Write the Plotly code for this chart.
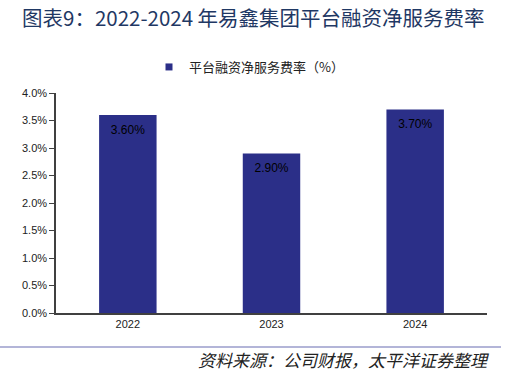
import plotly.graph_objects as go

years = ["2022", "2023", "2024"]
rates = [0.036, 0.029, 0.037]
labels = ["3.60%", "2.90%", "3.70%"]
series_name = "平台融资净服务费率（%）"
title_text = "图表9：2022-2024 年易鑫集团平台融资净服务费率"
source_text = "资料来源：公司财报，太平洋证券整理"

bar_color = "#2B2F88"
cjk = "Noto Sans CJK SC"

fig = go.Figure()
fig.add_trace(go.Bar(
    x=years, y=rates, name=series_name, showlegend=False,
    marker=dict(color=bar_color, line=dict(width=0)),
    hoverinfo="x+y",
))
# value labels just below the bar tops
fig.add_trace(go.Scatter(
    x=years, y=rates, mode="markers+text", text=labels, showlegend=False,
    textposition="bottom center",
    marker=dict(size=14, opacity=0, color=bar_color),
    textfont=dict(color="black", size=12, family="Arial, Liberation Sans"),
    hoverinfo="skip",
))
# legend entry with a small square marker
fig.add_trace(go.Scatter(
    x=[years[0]], y=[None], mode="markers", name=series_name,
    marker=dict(symbol="square", size=7, color=bar_color),
    showlegend=True, hoverinfo="skip",
))

plot_w = 507 - 56 - 20
plot_h = 374 - 93 - 61
def px_x(px):
    return (px - 56) / plot_w
def px_y(py):
    return (374 - 61 - py) / plot_h

fig.update_layout(
    width=507, height=374,
    margin=dict(l=56, r=20, t=93, b=61),
    paper_bgcolor="white", plot_bgcolor="white",
    bargap=0.6,
    showlegend=True,
    legend=dict(orientation="h", x=px_x(149), xanchor="left", y=px_y(67), yanchor="middle",
                font=dict(family=cjk, size=13, color="#222"),
                itemwidth=30),
    xaxis=dict(showline=True, linecolor="#404040", linewidth=1.5, ticks="",
               tickfont=dict(family="Arial, Liberation Sans", size=11, color="#222"),
               showgrid=False, fixedrange=True),
    yaxis=dict(range=[0, 0.04], dtick=0.005, tickformat=".1%",
               showline=True, linecolor="#404040", linewidth=1.5,
               ticks="outside", ticklen=5, tickcolor="#404040",
               showgrid=False, zeroline=False,
               tickfont=dict(family="Arial, Liberation Sans", size=11, color="#222")),
    annotations=[
        dict(text=title_text, x=px_x(20), y=px_y(17), xref="paper", yref="paper", showarrow=False,
             xanchor="left", yanchor="middle",
             font=dict(family=cjk, size=20.5, color="#1F3864")),
        dict(text="<i>" + source_text + "</i>", x=px_x(491), y=px_y(359), xref="paper", yref="paper",
             showarrow=False, xanchor="right", yanchor="middle",
             font=dict(family=cjk, size=17, color="#222")),
    ],
    shapes=[
        dict(type="line", xref="paper", yref="paper", x0=px_x(0), x1=px_x(501),
             y0=px_y(347), y1=px_y(347),
             line=dict(color="#9A9CCB", width=1.5)),
    ],
)

fig.write_html("out.html")
